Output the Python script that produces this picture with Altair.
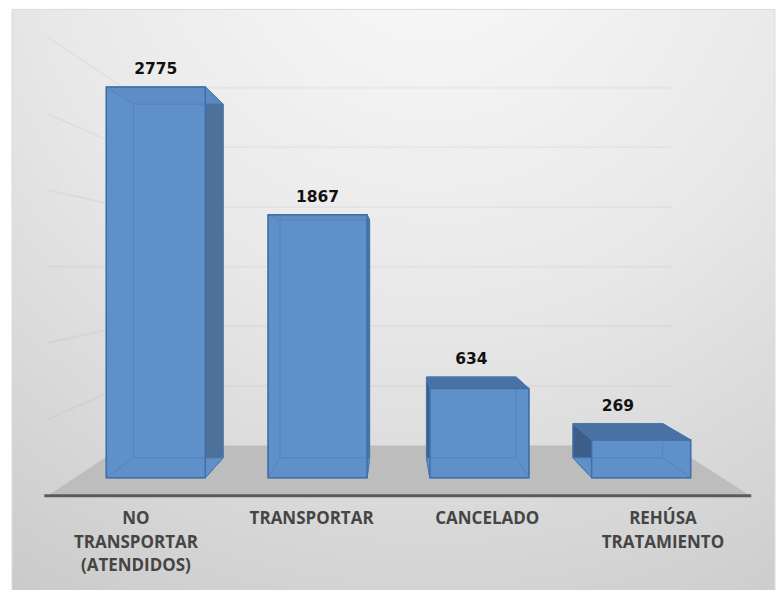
import altair as alt
import pandas as pd

# ---- chart values ----
categories = ["NO TRANSPORTAR (ATENDIDOS)", "TRANSPORTAR", "CANCELADO", "REHÚSA TRATAMIENTO"]
label_lines = [["NO", "TRANSPORTAR", "(ATENDIDOS)"], ["TRANSPORTAR"], ["CANCELADO"], ["REHÚSA", "TRATAMIENTO"]]
values = [2775, 1867, 634, 269]
grid_values = [500, 1000, 1500, 2000, 2500, 3000]

# ---- 3-D projection settings (depth planes, vanishing point, bar half width) ----
VX, VY = 1.469, 1496
D_FLOOR_FRONT, D_BAR_FRONT, D_BAR_BACK, D_WALL = 1.0858, 1.0, 0.9055, 0.847
HALF = 0.306
X_MIN, X_MAX = -0.5, 3.5

BLUE = "#6190c9"
EDGE = "#4677b0"
DARK_TOP = "#4a71a3"
DARK_LEFT = "#3d5e88"
DARK_RIGHT = "#4f7199"


def px(x, d):
    return VX + d * (x - VX)


def py(v, d):
    return VY + d * (v - VY)


tick_values = [px(i, D_FLOOR_FRONT) for i in range(len(categories))]
label_expr = "[" + ",".join("[" + ",".join(f"'{t}'" for t in ls) + "]" for ls in label_lines) + "][round(datum.index*3)]"
axis = alt.Axis(values=tick_values, labelExpr=label_expr, domain=False, ticks=False, grid=False,
                labelFont="Open Sans", labelFontWeight=700, labelFontSize=17, labelColor="#454545",
                labelPadding=12, labelLineHeight=23.5, labelBaseline="top", labelFlush=False,
                labelOverlap=False, zindex=1, title=None)

xs = alt.Scale(domain=[(8 - 156) / 162, (776 - 156) / 162], range=[0, 768], nice=False, zero=False)
ys = alt.Scale(domain=[(477 - 498) / 0.141, (477 - 8) / 0.141], range=[490, 0], nice=False, zero=False)


def X(f="x"):
    return alt.X(f, type="quantitative", scale=xs, axis=axis, title=None)


def Y(f="y"):
    return alt.Y(f, type="quantitative", scale=ys, axis=None, title=None)


X2 = lambda f="x2": alt.X2(f)
Y2 = lambda f="y2": alt.Y2(f)

# ---- derived tables ----
rects_back, rects_front, vert, horiz, labels = [], [], [], [], []
for i, v in enumerate(values):
    l, r = i - HALF, i + HALF
    left_visible = i > VX
    fb, bb = D_BAR_FRONT, D_BAR_BACK
    rects_back.append(dict(x=px(l, bb), x2=px(r, bb), y=py(0, bb), y2=py(v, bb)))
    rects_front.append(dict(x=px(l, fb), x2=px(r, fb), y=py(0, fb), y2=py(v, fb)))
    # side faces
    left_col = DARK_LEFT if left_visible else BLUE
    right_col = BLUE if left_visible else DARK_RIGHT
    for name, xx, col in (("L", l, left_col), ("R", r, right_col)):
        for d in (bb, fb):
            vert.append(dict(k=f"{i}{name}", x=px(xx, d), y=py(0, d), y2=py(v, d), fill=col))
    # top & bottom faces
    top_col = DARK_TOP if py(v, fb) < VY else "#5b89c1"
    for name, vv, col in (("B", 0, BLUE), ("T", v, top_col)):
        for d in (bb, fb):
            horiz.append(dict(k=f"{i}{name}", y=py(vv, d), x=px(l, d), x2=px(r, d), fill=col))
    d_top = fb if py(v, fb) >= py(v, bb) else bb
    labels.append(dict(x=px(i, d_top), y=py(v, d_top), text=str(v)))

floor = pd.DataFrame([
    dict(y=py(0, D_FLOOR_FRONT), x=px(X_MIN, D_FLOOR_FRONT), x2=px(X_MAX, D_FLOOR_FRONT)),
    dict(y=py(0, D_WALL), x=px(X_MIN, D_WALL), x2=px(X_MAX, D_WALL)),
])
edge = pd.DataFrame([dict(x=px(X_MIN, D_FLOOR_FRONT) - 0.02, x2=px(X_MAX, D_FLOOR_FRONT) + 0.006, y=py(0, D_FLOOR_FRONT))])
grid_rows = []
for g in grid_values:
    grid_rows += [
        dict(k=g, o=0, x=px(X_MIN, D_FLOOR_FRONT), y=py(g, D_FLOOR_FRONT)),
        dict(k=g, o=1, x=px(X_MIN, D_WALL), y=py(g, D_WALL)),
        dict(k=g, o=2, x=px(X_MAX, D_WALL), y=py(g, D_WALL)),
    ]
grid = pd.DataFrame(grid_rows)

panel_fill = alt.Gradient(
    gradient="radial", x1=0.55, y1=0.0, r1=0.0, x2=0.55, y2=0.0, r2=1.15,
    stops=[alt.GradientStop(offset=0, color="#fafafa"),
           alt.GradientStop(offset=0.45, color="#e8e8e8"),
           alt.GradientStop(offset=1, color="#c4c4c4")],
)
panel = alt.Chart(pd.DataFrame({"a": [0]})).mark_rect(fill=panel_fill, stroke="#dcdcdc", strokeWidth=1).encode(
    x=alt.value(4), x2=alt.value(768), y=alt.value(0), y2=alt.value(582))

floor_layer = alt.Chart(floor).mark_area(orient="horizontal", color="#bdbdbd").encode(
    y=Y(), x=X(), x2=X2())
grid_layer = alt.Chart(grid).mark_line(color="#000000", opacity=0.035, strokeWidth=2).encode(
    x=X(), y=Y(), detail="k:N", order="o:Q")
edge_layer = alt.Chart(edge).mark_rule(color="#5a5a5a", strokeWidth=3).encode(x=X(), x2=X2(), y=Y())

back_layer = alt.Chart(pd.DataFrame(rects_back)).mark_rect(color=BLUE, stroke=EDGE, strokeWidth=1).encode(
    x=X(), x2=X2(), y=Y(), y2=Y2())
vert_layer = alt.Chart(pd.DataFrame(vert)).mark_area(stroke=EDGE, strokeWidth=1).encode(
    x=X(), y=Y(), y2=Y2(), detail="k:N", fill=alt.Fill("fill:N", scale=None))
horiz_layer = alt.Chart(pd.DataFrame(horiz)).mark_area(orient="horizontal", stroke=EDGE, strokeWidth=1).encode(
    y=Y(), x=X(), x2=X2(), detail="k:N", fill=alt.Fill("fill:N", scale=None))
front_layer = alt.Chart(pd.DataFrame(rects_front)).mark_rect(
    fill=BLUE, fillOpacity=0.55, stroke="#3f6fa8", strokeWidth=1.5).encode(x=X(), x2=X2(), y=Y(), y2=Y2())
label_layer = alt.Chart(pd.DataFrame(labels)).mark_text(
    font="DejaVu Sans", fontWeight="bold", fontSize=15.5, color="#111111", dy=-18).encode(
    x=X(), y=Y(), text="text:N")

chart = alt.layer(panel, floor_layer, grid_layer, edge_layer, back_layer, vert_layer, horiz_layer,
                  front_layer, label_layer).properties(
    width=768, height=490, padding=0, background="white"
).configure_view(stroke=None)

chart.save("out.html", embed_options={"renderer": "svg", "actions": False})
